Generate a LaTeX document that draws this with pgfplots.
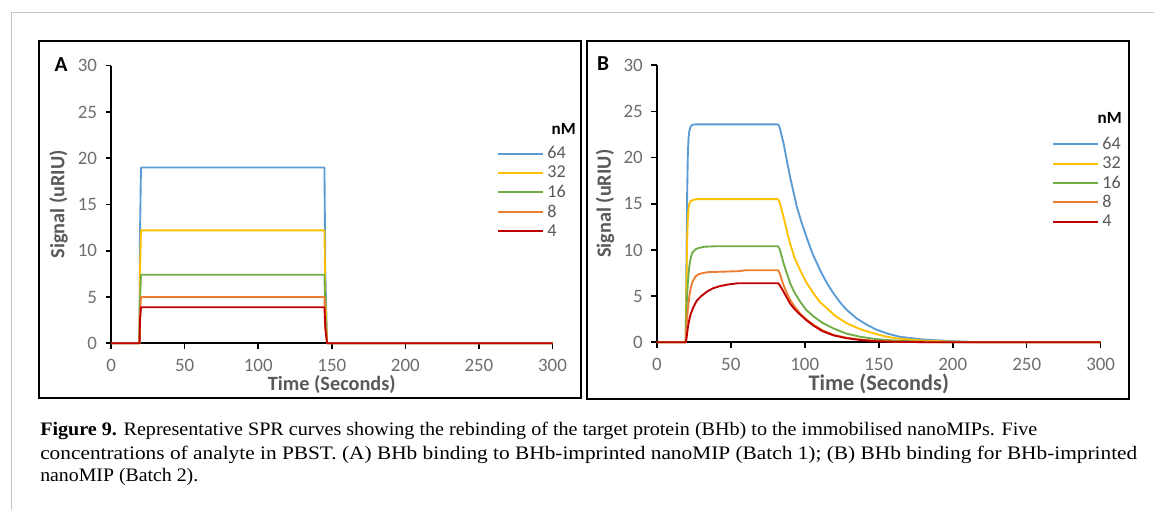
\documentclass[border=0pt]{standalone}
\usepackage{pgfplots}
\pgfplotsset{compat=1.18}
\usepackage{fontspec}
\setmainfont{Carlito}
\newfontfamily\capfont{Liberation Serif}

\definecolor{c64}{HTML}{5B9BD5}
\definecolor{c32}{HTML}{FFC000}
\definecolor{c16}{HTML}{70AD47}
\definecolor{c8}{HTML}{ED7D31}
\definecolor{c4}{HTML}{C00000}
\definecolor{labgray}{HTML}{595959}
\definecolor{tickgray}{HTML}{6E6E6E}

\pgfplotsset{
  spr/.style={
    scale only axis,
    xmin=0, xmax=300, ymin=0, ymax=30,
    axis lines*=left,
    axis line style={black, line width=1.6pt},
    xtick={0,50,...,300}, ytick={0,5,...,30},
    tick align=outside, major tick length=4pt,
    tick style={black, line width=1.2pt},
    /pgf/number format/assume math mode=true,
    ticklabel style={font=\fontsize{14.2}{14.2}\selectfont, text=tickgray},
    yticklabel style={xshift=-3pt},
    xticklabel style={yshift=-4.5pt},
    label style={font=\bfseries\fontsize{15.2}{15.2}\selectfont, text=labgray},
    xlabel={Time (Seconds)}, ylabel={Signal (uRIU)},
    clip=false,
    every axis plot/.append style={line width=1.4pt, line join=round, no markers},
    legend cell align=left,
    legend image code/.code={\draw[##1, line width=1.5pt] (0pt,0pt) -- (33.75pt,0pt);},
    legend style={draw=none, fill=none, inner sep=0pt, outer sep=0pt,
      anchor=north west, font=\fontsize{13.6}{13.6}\selectfont, text=labgray,
      row sep=0pt, column sep=2.6pt,
      nodes={inner sep=0pt, minimum height=14.55pt}},
  }
}

\begin{document}
\begin{tikzpicture}[x=0.75pt, y=0.75pt]
\useasboundingbox (0,0) rectangle (1154,510);
\draw[black!22, line width=0.75pt] (11,0) -- (11,497.3) -- (1154,497.3);
\draw[line width=1.5pt] (38.5,112) rectangle (580.5,469);
\draw[line width=1.5pt] (587,111) rectangle (1129,469);

% panel A
\begin{axis}[spr, at={(83.33pt,125.03pt)}, anchor=south west,
  width=331.05pt, height=208.2pt,
  x label style={at={(axis description cs:0.5,-0.150)}, anchor=center},
  y label style={at={(axis description cs:-0.119,0.5)}, anchor=center},
  legend style={at={(axis description cs:0.8743,0.718)}}]
\addplot[c64] coordinates {(0,0)(19.3,0)(19.6,11.4)(20.3,19.0)(145,19.0)(145.6,7.6)(146.8,0)(300,0)};
\addplot[c32] coordinates {(0,0)(19.3,0)(19.6,7.3)(20.3,12.2)(145,12.2)(145.6,4.9)(146.8,0)(300,0)};
\addplot[c16] coordinates {(0,0)(19.3,0)(19.6,4.4)(20.3,7.4)(145,7.4)(145.6,3.0)(146.8,0)(300,0)};
\addplot[c8] coordinates {(0,0)(19.3,0)(19.6,3.0)(20.3,5.0)(145,5.0)(145.6,2.0)(146.8,0)(300,0)};
\addplot[c4] coordinates {(0,0)(19.3,0)(19.6,2.3)(20.3,3.9)(145,3.9)(145.6,1.6)(146.8,0)(300,0)};
\legend{64,32,16,8,4}
\end{axis}

% panel B
\begin{axis}[spr, at={(492.6pt,125.78pt)}, anchor=south west,
  width=332.9pt, height=207.75pt,
  x label style={at={(axis description cs:0.5,-0.1505)}, anchor=center,
    font=\bfseries\fontsize{16.7}{16.7}\selectfont},
  y label style={at={(axis description cs:-0.1167,0.5)}, anchor=center},
  legend style={at={(axis description cs:0.8903,0.750)}}]
\addplot[c64] coordinates {(0,0)(19.5,0)(20,8)(20.5,16)(21,20.5)(21.5,22.2)(22,22.9)(23,23.4)(24,23.55)(26,23.6)(82,23.6)(83,23.3)(85.6,21.6)(88,19.6)(90.1,17.9)(94.6,14.7)(98,12.9)(101.4,11.3)(105,9.7)(110.4,7.8)(115,6.4)(119.4,5.3)(124,4.3)(128.4,3.5)(135,2.6)(141.9,1.9)(148,1.4)(155.4,0.97)(164,0.6)(180,0.3)(200,0.12)(216,0.03)(220,0)(300,0)};
\addplot[c32] coordinates {(0,0)(19.5,0)(20,6)(20.5,11)(21,13.5)(21.5,14.5)(22,15)(23,15.3)(25,15.45)(27,15.5)(82,15.5)(83,15.2)(85.6,13.6)(88,12.0)(90.1,10.7)(93,9.2)(96.9,7.8)(101,6.5)(105.9,5.3)(110,4.4)(114.9,3.7)(121,2.8)(128.4,2.06)(137,1.45)(146.4,0.97)(154,0.65)(162,0.43)(180,0.18)(205,0.04)(210,0)(300,0)};
\addplot[c16] coordinates {(0,0)(19.5,0)(20,3.5)(21,6.5)(22,8.3)(23,9.2)(24,9.7)(26,10.05)(28,10.2)(32,10.35)(40,10.4)(82,10.4)(83,10.1)(85.6,8.6)(88,7.4)(90.1,6.4)(93,5.4)(96.9,4.4)(101,3.5)(105.9,2.8)(112,2.1)(119.4,1.5)(128,0.95)(137.4,0.6)(148,0.35)(160,0.2)(175,0.09)(190,0.04)(195,0)(300,0)};
\addplot[c8] coordinates {(0,0)(19.5,0)(20,1.5)(21,3.6)(22,5.0)(23,5.9)(24,6.5)(26,7.1)(28,7.35)(31,7.5)(35,7.6)(45,7.65)(55,7.7)(60,7.8)(82,7.8)(83,7.5)(85.6,6.2)(88,5.3)(90.1,4.6)(93,3.9)(96.9,3.1)(101,2.5)(105.9,1.9)(112,1.3)(119.4,0.8)(128,0.5)(137.4,0.3)(148,0.15)(160,0.08)(185,0)(300,0)};
\addplot[c4] coordinates {(0,0)(19.5,0)(20,0.3)(21,1.6)(22,2.5)(23,3.1)(25,3.9)(27,4.5)(30,5.0)(34,5.5)(38,5.85)(43,6.1)(48,6.25)(55,6.4)(82,6.4)(83,6.2)(85.6,5.5)(88,4.8)(90.1,4.2)(93,3.6)(96.9,3.0)(101,2.4)(105.9,1.8)(112,1.2)(119.4,0.75)(128,0.45)(137.4,0.25)(148,0.12)(160,0.06)(185,0)(300,0)};
\legend{64,32,16,8,4}
\end{axis}

% panel letters and legend titles
\node[font=\bfseries\fontsize{16}{16}\selectfont] at (61,445) {A};
\node[font=\bfseries\fontsize{16}{16}\selectfont] at (603,446.3) {B};
\node[anchor=east, inner sep=0pt, font=\bfseries\fontsize{12.8}{12.8}\selectfont] at (576,381) {nM};
\node[anchor=east, inner sep=0pt, font=\bfseries\fontsize{12.8}{12.8}\selectfont] at (1122,392) {nM};

% caption
\begin{scope}[every node/.style={anchor=base west, inner sep=0pt, font=\capfont\fontsize{14.3}{17}\selectfont}]
\node at (40,74.3) {\resizebox{747.75pt}{\height}{\textbf{Figure 9.} Representative SPR curves showing the rebinding of the target protein (BHb) to the immobilised nanoMIPs. Five}};
\node at (40,50) {\resizebox{822.75pt}{\height}{concentrations of analyte in PBST. (A) BHb binding to BHb-imprinted nanoMIP (Batch 1); (B) BHb binding for BHb-imprinted}};
\node at (40,28.3) {\resizebox{118.5pt}{\height}{nanoMIP (Batch 2).}};
\end{scope}
\end{tikzpicture}
\end{document}
